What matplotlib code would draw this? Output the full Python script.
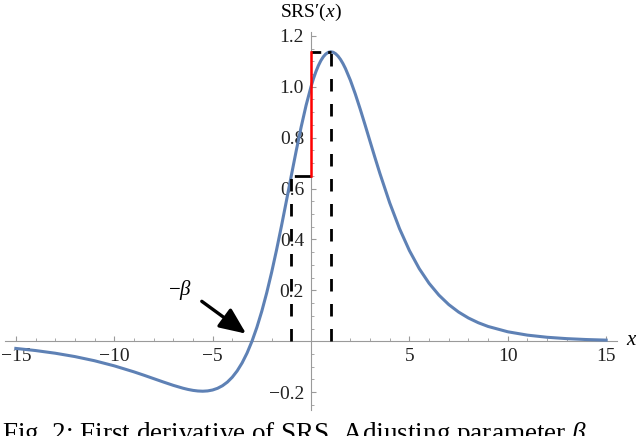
import numpy as np
import matplotlib
matplotlib.use("Agg")
from matplotlib import pyplot as plt

plt.rcParams['font.family'] = ['Liberation Serif', 'DejaVu Serif']
plt.rcParams['mathtext.fontset'] = 'custom'
plt.rcParams['mathtext.rm'] = 'Liberation Serif'
plt.rcParams['mathtext.it'] = 'Liberation Serif:italic'

# curve values
x_vals = [-15, -14, -13, -12, -11, -10, -9, -8.5, -8, -7.5, -7, -6.5, -6.25,
          -6, -5.75, -5.5, -5.25, -5, -4.75, -4.5, -4.25, -4, -3.75, -3.5,
          -3.25, -3, -2.75, -2.5, -2.25, -2, -1.75, -1.5, -1.25, -1, -0.75,
          -0.5, -0.25, 0, 0.125, 0.25, 0.375, 0.5, 0.625, 0.75, 0.875, 1,
          1.125, 1.25, 1.375, 1.5, 1.625, 1.75, 2, 2.25, 2.5, 2.75, 3, 3.25,
          3.5, 4, 4.5, 5, 5.5, 6, 6.5, 7, 7.5, 8, 8.5, 9, 10, 11, 12, 13, 14, 15]
srs_vals = [-0.0281, -0.0364, -0.0469, -0.0601, -0.0765, -0.0965, -0.1201,
            -0.1331, -0.1466, -0.1601, -0.1731, -0.1845, -0.1892, -0.1929,
            -0.1953, -0.1962, -0.1950, -0.1914, -0.1848, -0.1747, -0.1604,
            -0.1411, -0.1162, -0.0849, -0.0464, 0.0, 0.0548, 0.1182, 0.1905,
            0.2710, 0.3591, 0.4532, 0.5513, 0.6509, 0.7488, 0.8419, 0.9267,
            1.0, 1.0315, 1.0592, 1.0829, 1.1024, 1.1176, 1.1285, 1.1350,
            1.1373, 1.1355, 1.1297, 1.1201, 1.1071, 1.0908, 1.0716, 1.0256,
            0.9717, 0.9122, 0.8495, 0.7854, 0.7217, 0.6596, 0.5437, 0.4422,
            0.3564, 0.2854, 0.2277, 0.1813, 0.1442, 0.1148, 0.0914, 0.0729,
            0.0582, 0.0373, 0.0241, 0.0157, 0.0103, 0.0068, 0.0045]

beta = 3
left_x, left_y = -1, 0.651
peak_x, peak_y = 1, 1.137

x_major = [-15, -10, -5, 5, 10, 15]
x_labels = ['\u221215', '\u221210', '\u22125', '5', '10', '15']
y_major = [-0.2, 0.2, 0.4, 0.6, 0.8, 1.0, 1.2]
y_labels = ['\u22120.2', '0.2', '0.4', '0.6', '0.8', '1.0', '1.2']
y_minor = [-0.25, -0.15, -0.1, -0.05, 0.05, 0.1, 0.15, 0.25, 0.3, 0.35,
           0.45, 0.5, 0.55, 0.65, 0.7, 0.75, 0.85, 0.9, 0.95, 1.05, 1.1, 1.15]

caption = 'Fig. 2: First derivative of SRS. Adjusting parameter $\\beta$'

fig = plt.figure(figsize=(6.4, 4.36), dpi=100)
ax = fig.add_axes([5/640, 26/436, 612/640, 378/436])
ax.set_xlim(-15.55, 15.55)
ax.set_ylim(-0.27, 1.215)

# Mathematica style axes through the origin
axis_col = '#9a9a9a'
for s in ['top', 'right']:
    ax.spines[s].set_visible(False)
ax.spines['left'].set_position(('data', 0))
ax.spines['bottom'].set_position(('data', 0))
ax.spines['left'].set_color(axis_col)
ax.spines['bottom'].set_color(axis_col)
ax.spines['left'].set_linewidth(0.8)
ax.spines['bottom'].set_linewidth(0.8)

ax.set_xticks(x_major)
ax.set_xticklabels(x_labels)
ax.set_xticks([i for i in range(-15, 16) if i % 5 != 0], minor=True)
ax.set_yticks(y_major)
ax.set_yticklabels(y_labels)
ax.set_yticks(y_minor, minor=True)
ax.tick_params(which='both', direction='in', color=axis_col, labelsize=14,
               labelcolor='#222222')
ax.tick_params(which='major', length=3.5, width=0.8, pad=5)
ax.tick_params(which='minor', length=2, width=0.6)

# the curve
ax.plot(x_vals, srs_vals, color='#5E81B5', lw=2.2, zorder=3)

# guide lines
ax.plot([left_x, left_x], [0, left_y], color='black', lw=2, dashes=(4.5, 4.5), zorder=4)
ax.plot([peak_x, peak_x], [0, peak_y], color='black', lw=2, dashes=(4.5, 4.5), zorder=4)
ax.plot([0, peak_x], [peak_y, peak_y], color='black', lw=2, dashes=(3.5, 2.5), zorder=4)
ax.plot([0, left_x], [left_y, left_y], color='black', lw=2, dashes=(6, 4), zorder=4)
ax.plot([0, 0], [left_y, peak_y], color='#ff0000', lw=1.8, zorder=5)

# arrow to -beta
ax.annotate('', xy=(-beta - 0.3, 0.03), xytext=(-5.55, 0.157),
            arrowprops=dict(arrowstyle='-|>,head_length=0.8,head_width=0.35',
                            color='black', lw=2.4, mutation_scale=20,
                            shrinkA=0, shrinkB=0))
ax.text(-6.65, 0.2, '$-\\beta$', fontsize=15, ha='center', va='center')

# axis labels
ax.text(16.3, 0.005, '$x$', fontsize=15, ha='center', va='center', clip_on=False)
ax.text(0, 1.292, 'SRS\u2032($x$)', fontsize=14, ha='center', va='center',
        clip_on=False)

fig.text(2/640, -5/436, caption, fontsize=19.5, ha='left', va='baseline')

fig.savefig('out.png', dpi=100)
